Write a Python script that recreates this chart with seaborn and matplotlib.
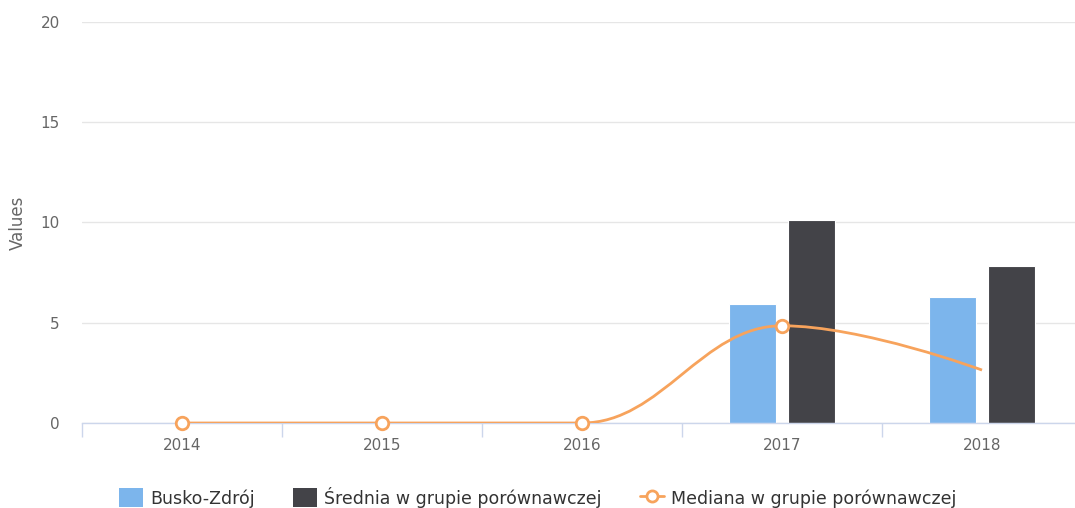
import numpy as np
import pandas as pd
import matplotlib
matplotlib.use('Agg')
import matplotlib.pyplot as plt
import seaborn as sns
from matplotlib.path import Path
from matplotlib.patches import PathPatch, Patch
from matplotlib.lines import Line2D

# data
years = ['2014', '2015', '2016', '2017', '2018']
busko = [np.nan, np.nan, np.nan, 5.95, 6.28]
srednia = [np.nan, np.nan, np.nan, 10.12, 7.81]
mediana = [0, 0, 0, 4.85, 2.64]

series_names = ['Busko-Zdrój', 'Średnia w grupie porównawczej', 'Mediana w grupie porównawczej']
colors = {'blue': '#7cb5ec', 'dark': '#434348', 'orange': '#f7a35c'}

sns.set_theme(style='white')
plt.rcParams['font.family'] = ['DejaVu Sans']


def spline_path(xs, ys, smoothing=1.5):
    # Highcharts-style spline: cubic bezier with control points clamped at extremes
    denom = smoothing + 1
    n = len(xs)
    left = [None] * n
    right = [None] * n
    for i in range(1, n - 1):
        lx, ly = xs[i - 1], ys[i - 1]
        nx, ny = xs[i + 1], ys[i + 1]
        px, py = xs[i], ys[i]
        lcx, lcy = (smoothing * px + lx) / denom, (smoothing * py + ly) / denom
        rcx, rcy = (smoothing * px + nx) / denom, (smoothing * py + ny) / denom
        corr = ((rcy - lcy) * (rcx - px)) / (rcx - lcx) + py - rcy
        lcy += corr
        rcy += corr
        if lcy > ly and lcy > py:
            lcy = max(ly, py); rcy = 2 * py - lcy
        elif lcy < ly and lcy < py:
            lcy = min(ly, py); rcy = 2 * py - lcy
        if rcy > ny and rcy > py:
            rcy = max(ny, py); lcy = 2 * py - rcy
        elif rcy < ny and rcy < py:
            rcy = min(ny, py); lcy = 2 * py - rcy
        left[i] = (lcx, lcy)
        right[i] = (rcx, rcy)
    verts = [(xs[0], ys[0])]
    codes = [Path.MOVETO]
    for i in range(1, n):
        c1 = right[i - 1] or (xs[i - 1], ys[i - 1])
        c2 = left[i] or (xs[i], ys[i])
        verts += [c1, c2, (xs[i], ys[i])]
        codes += [Path.CURVE4] * 3
    return Path(verts, codes)


df = pd.DataFrame({
    'year': years * 2,
    'value': busko + srednia,
    'series': [series_names[0]] * 5 + [series_names[1]] * 5,
}).dropna()

fig = plt.figure(figsize=(10.75, 5.08), dpi=100)
ax = fig.add_axes([82 / 1075, 85 / 508, 1000 / 1075, 401 / 508])

sns.barplot(data=df, x='year', y='value', hue='series', order=years,
            hue_order=series_names[:2], palette=[colors['blue'], colors['dark']],
            saturation=1, width=0.59, gap=0.2, edgecolor='white', linewidth=0.8,
            legend=False, ax=ax, zorder=2)

xpos = np.arange(len(years))
ax.add_patch(PathPatch(spline_path(list(xpos), mediana), facecolor='none',
                       edgecolor=colors['orange'], lw=2, zorder=4,
                       transform=ax.transData, capstyle='butt'))
ax.plot(xpos[:4], mediana[:4], linestyle='none', marker='o', markersize=9,
        markerfacecolor='white', markeredgecolor=colors['orange'],
        markeredgewidth=2, zorder=5, clip_on=False)

ax.set_xlim(-0.5, 4.5)
ax.set_ylim(0, 20)
ax.set_yticks([0, 5, 10, 15, 20])
ax.grid(axis='y', color='#e6e6e6', linewidth=1, zorder=0)
ax.set_axisbelow(True)
for side in ['top', 'right', 'left']:
    ax.spines[side].set_visible(False)
ax.spines['bottom'].set_color('#ccd6eb')
ax.spines['bottom'].set_linewidth(1)

ax.set_xticks(xpos)
ax.set_xticklabels(years)
ax.set_xticks(np.arange(-0.5, 5, 1), minor=True)
ax.tick_params(axis='x', which='both', bottom=True)
ax.tick_params(axis='x', which='major', length=0, pad=11, labelsize=11, labelcolor='#666666')
ax.tick_params(axis='x', which='minor', length=10, width=1, color='#ccd6eb', direction='out')
ax.tick_params(axis='y', length=0, pad=16, labelsize=11, labelcolor='#666666')
ax.set_xlabel('')
ax.set_ylabel('')
fig.text(18 / 1075, 1 - 223 / 508, 'Values', rotation=90, ha='center', va='center',
         fontsize=12, color='#666666')

handles = [
    Patch(facecolor=colors['blue'], edgecolor='none'),
    Patch(facecolor=colors['dark'], edgecolor='none'),
    Line2D([], [], color=colors['orange'], lw=2, marker='o', markersize=8,
           markerfacecolor='white', markeredgecolor=colors['orange'], markeredgewidth=2),
]
fig.legend(handles, series_names, loc='center', bbox_to_anchor=(538 / 1075, 1 - 497 / 508),
           ncol=3, frameon=False, fontsize=12.5, labelcolor='#333333',
           handlelength=1.35, handleheight=1.3, handletextpad=0.45, columnspacing=2.2)

fig.savefig('out.png', dpi=100)
